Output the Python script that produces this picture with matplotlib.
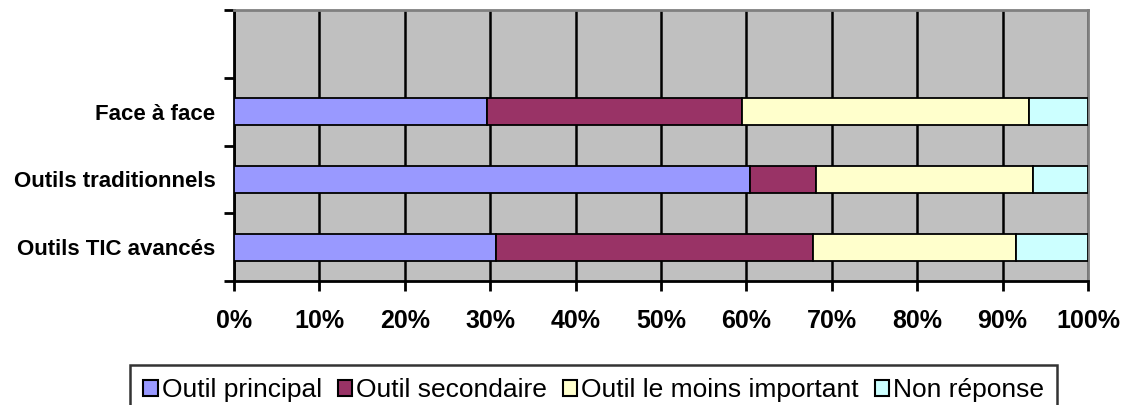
import matplotlib.pyplot as plt
from matplotlib.patches import Patch

categories = ['Outils TIC avancés', 'Outils traditionnels', 'Face à face']
series_names = ['Outil principal', 'Outil secondaire', 'Outil le moins important', 'Non réponse']
principal = [30.7, 60.4, 29.6]
secondaire = [37.1, 7.7, 29.9]
moins_important = [23.8, 25.5, 33.6]
non_reponse = [8.4, 6.4, 6.9]
colors = ['#9999FF', '#993366', '#FFFFCC', '#CCFFFF']
x_ticks = list(range(0, 101, 10))

plt.rcParams['font.family'] = ['Liberation Sans', 'DejaVu Sans']

fig = plt.figure(figsize=(11.29, 4.05), dpi=100)
ax = fig.add_axes([234 / 1129, 1 - 281 / 405, (1088 - 234) / 1129, (281 - 10) / 405])
ax.set_facecolor('#C0C0C0')

y = list(range(len(categories)))
left = [0] * len(categories)
for vals, col in zip([principal, secondaire, moins_important, non_reponse], colors):
    ax.barh(y, vals, left=left, height=0.4, color=col, edgecolor='black', linewidth=1.3, zorder=3)
    left = [a + b for a, b in zip(left, vals)]

ax.set_xlim(0, 100)
ax.set_ylim(-0.5, 3.5)
ax.set_xticks(x_ticks)
ax.set_xticklabels([f'{t}%' for t in x_ticks], fontsize=18, fontweight='bold')
ax.set_yticks(y)
ax.set_yticklabels(categories, fontsize=16, fontweight='bold')
ax.set_yticks([-0.5, 0.5, 1.5, 2.5, 3.5], minor=True)
ax.tick_params(axis='y', which='major', length=0, pad=13.5)
ax.tick_params(axis='y', which='minor', length=7, width=2)
ax.tick_params(axis='x', length=7, width=2, pad=13)
ax.xaxis.grid(True, color='black', linewidth=1.8, zorder=1)
ax.set_axisbelow(True)

for side in ['left', 'bottom']:
    ax.spines[side].set_linewidth(2)
    ax.spines[side].set_color('black')
for side in ['top', 'right']:
    ax.spines[side].set_linewidth(2)
    ax.spines[side].set_color('#808080')

handles = [Patch(facecolor=c, edgecolor='black', linewidth=1.5) for c in colors]
leg = fig.legend(handles, series_names, loc='upper left', bbox_to_anchor=(130 / 1129, 1 - 365 / 405),
                 ncol=4, fontsize=19, frameon=True, fancybox=False, edgecolor='black',
                 handlelength=0.55, handleheight=0.55, handletextpad=0.15, columnspacing=0.6,
                 borderpad=0.5, borderaxespad=0)
leg.get_frame().set_linewidth(1.8)

fig.savefig('out.png', dpi=100)
